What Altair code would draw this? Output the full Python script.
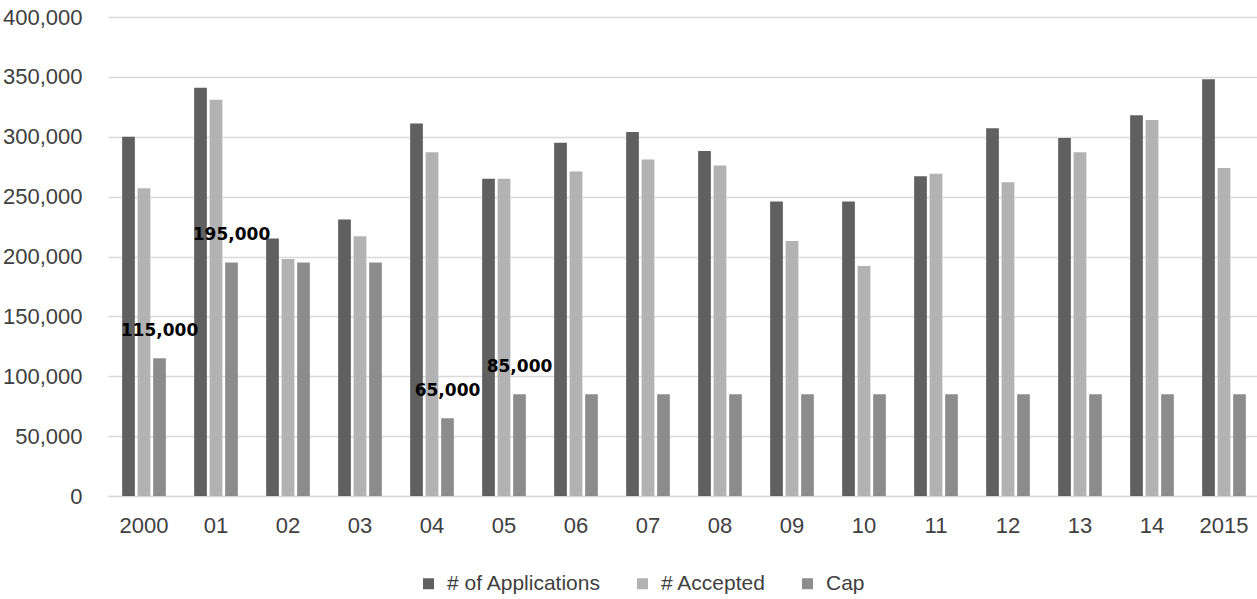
import altair as alt
import pandas as pd

# H-1B style yearly figures: applications filed, applications accepted, and the cap
years = ["2000", "01", "02", "03", "04", "05", "06", "07", "08", "09",
         "10", "11", "12", "13", "14", "2015"]
applications = [300000, 341000, 215000, 231000, 311000, 265000, 295000, 304000,
                288000, 246000, 246000, 267000, 307000, 299000, 318000, 348000]
accepted = [257000, 331000, 198000, 217000, 287000, 265000, 271000, 281000,
            276000, 213000, 192000, 269000, 262000, 287000, 314000, 274000]
cap = [115000, 195000, 195000, 195000, 65000, 85000, 85000, 85000,
       85000, 85000, 85000, 85000, 85000, 85000, 85000, 85000]

series = ["# of Applications", "# Accepted", "Cap"]
colors = ["#606060", "#b2b2b2", "#8c8c8c"]

# years where the cap changed get a value label
labelled_years = ["2000", "01", "04", "05"]

y_ticks = [0, 50000, 100000, 150000, 200000, 250000, 300000, 350000, 400000]

rows = []
for i, yr in enumerate(years):
    for name, vals in zip(series, [applications, accepted, cap]):
        rows.append({"year": yr, "series": name, "value": vals[i]})
df = pd.DataFrame(rows)

axis_font = "Liberation Sans"
label_color = "#404040"

x_enc = alt.X(
    "year:N",
    sort=years,
    scale=alt.Scale(paddingInner=0.393, paddingOuter=0.1965, range=[0, 1152]),
    axis=alt.Axis(
        title=None, ticks=False, domain=True, domainColor="#d9d9d9",
        domainWidth=1.5, labelAngle=0, labelPadding=19, labelFontSize=22,
        labelFont=axis_font, labelColor=label_color,
    ),
)
xoff_enc = alt.XOffset(
    "series:N", sort=series, scale=alt.Scale(paddingInner=0.18, paddingOuter=0)
)
y_enc = alt.Y(
    "value:Q",
    scale=alt.Scale(domain=[0, 400000], nice=False),
    axis=alt.Axis(
        title=None, values=y_ticks, format=",.0f", grid=True, gridColor="#d9d9d9",
        gridWidth=1.5, domain=False, ticks=False, labelPadding=26,
        labelFontSize=22, labelFont=axis_font, labelColor=label_color,
    ),
)

bars = alt.Chart(df).mark_bar().encode(
    x=x_enc,
    xOffset=xoff_enc,
    y=y_enc,
    color=alt.Color(
        "series:N",
        sort=series,
        scale=alt.Scale(domain=series, range=colors),
        legend=alt.Legend(
            orient="none", legendX=310, legendY=556, direction="horizontal",
            title=None, symbolType="square", symbolSize=121, symbolStrokeWidth=0,
            labelFontSize=21, labelFont=axis_font, labelColor=label_color,
            columnPadding=30, labelOffset=8,
        ),
    ),
)

labels = alt.Chart(df).transform_filter(
    alt.FieldEqualPredicate(field="series", equal="Cap")
).transform_filter(
    alt.FieldOneOfPredicate(field="year", oneOf=labelled_years)
).mark_text(
    font="DejaVu Sans", fontWeight="bold", fontSize=17, color="black",
    baseline="middle", align="center", dy=-27,
).encode(
    x=alt.X("year:N", sort=years),
    xOffset=alt.XOffset("series:N", sort=series),
    y=alt.Y("value:Q"),
    text=alt.Text("value:Q", format=",.0f"),
)

chart = alt.layer(bars, labels).properties(
    width=1149,
    height=479,
    autosize=alt.AutoSizeParams(type="none"),
    padding={"left": 108, "top": 17, "right": 0, "bottom": 103},
    background="white",
).configure_view(stroke=None)

chart.save("out.html", embed_options={"renderer": "svg", "actions": False})
